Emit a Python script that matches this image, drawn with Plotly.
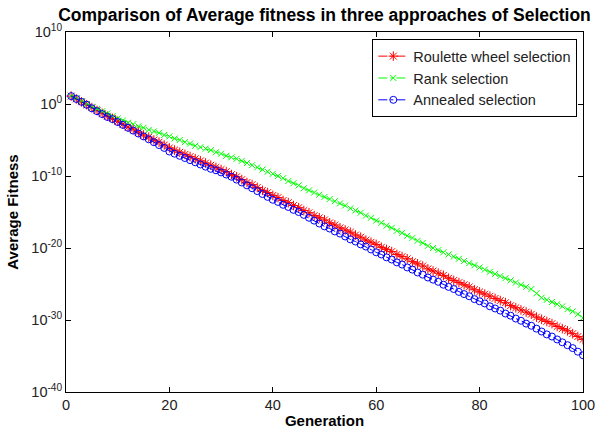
import plotly.graph_objects as go

generations = list(range(1, 101))

# log10 of average fitness
rank_log = [1.1, 0.8, 0.4, 0.0, -0.4, -0.7, -1.0, -1.3, -1.7, -2.0,
            -2.3, -2.6, -2.8, -3.1, -3.3, -3.6, -3.8, -4.0, -4.3, -4.5,
            -4.8, -5.0, -5.3, -5.5, -5.8, -6.0, -6.2, -6.4, -6.7, -6.9,
            -7.2, -7.4, -7.6, -7.9, -8.2, -8.5, -8.8, -9.1, -9.4, -9.7,
            -10.0, -10.3, -10.7, -11.0, -11.3, -11.7, -12.0, -12.3, -12.6, -12.9,
            -13.2, -13.5, -13.8, -14.1, -14.5, -14.8, -15.1, -15.5, -15.8, -16.2,
            -16.5, -16.9, -17.2, -17.6, -17.9, -18.3, -18.6, -19.0, -19.3, -19.7,
            -20.0, -20.3, -20.6, -20.9, -21.2, -21.5, -21.8, -22.1, -22.4, -22.7,
            -23.0, -23.3, -23.6, -23.9, -24.2, -24.5, -24.8, -25.1, -25.4, -25.7,
            -26.3, -26.9, -27.2, -27.5, -27.8, -28.1, -28.5, -28.8, -29.2, -29.7]

roulette_log = [1.1, 0.7, 0.3, -0.1, -0.5, -0.9, -1.3, -1.7, -2.0, -2.4,
                -2.8, -3.2, -3.5, -3.9, -4.3, -4.6, -5.0, -5.3, -5.7, -6.1,
                -6.4, -6.7, -7.0, -7.3, -7.6, -7.9, -8.2, -8.5, -8.8, -9.1,
                -9.4, -9.8, -10.1, -10.5, -10.9, -11.2, -11.6, -12.0, -12.3, -12.7,
                -13.0, -13.4, -13.7, -14.1, -14.4, -14.8, -15.1, -15.5, -15.8, -16.1,
                -16.5, -16.8, -17.2, -17.5, -17.8, -18.2, -18.5, -18.9, -19.2, -19.5,
                -19.9, -20.2, -20.5, -20.9, -21.2, -21.5, -21.9, -22.2, -22.5, -22.9,
                -23.2, -23.5, -23.8, -24.2, -24.5, -24.8, -25.1, -25.4, -25.8, -26.1,
                -26.4, -26.7, -27.0, -27.3, -27.6, -28.0, -28.3, -28.6, -28.9, -29.2,
                -29.6, -29.9, -30.2, -30.5, -30.9, -31.2, -31.5, -31.9, -32.3, -32.7]

annealed_log = [1.1, 0.7, 0.3, -0.1, -0.6, -1.0, -1.4, -1.8, -2.1, -2.5,
                -2.9, -3.3, -3.7, -4.1, -4.5, -4.9, -5.3, -5.7, -6.1, -6.6,
                -6.9, -7.2, -7.5, -7.8, -8.1, -8.4, -8.7, -9.0, -9.2, -9.5,
                -9.8, -10.1, -10.5, -10.9, -11.3, -11.7, -12.1, -12.5, -12.9, -13.3,
                -13.6, -14.0, -14.3, -14.7, -15.0, -15.4, -15.8, -16.2, -16.6, -17.0,
                -17.3, -17.7, -18.0, -18.4, -18.8, -19.1, -19.5, -19.8, -20.2, -20.6,
                -20.9, -21.3, -21.6, -22.0, -22.3, -22.7, -23.0, -23.4, -23.7, -24.1,
                -24.4, -24.7, -25.1, -25.4, -25.7, -26.1, -26.4, -26.7, -27.1, -27.4,
                -27.7, -28.1, -28.4, -28.7, -29.1, -29.4, -29.8, -30.1, -30.5, -30.8,
                -31.2, -31.6, -32.0, -32.3, -32.7, -33.1, -33.5, -33.9, -34.4, -34.9]

x_ticks = [0, 20, 40, 60, 80, 100]
y_tick_exps = [-40, -30, -20, -10, 0, 10]

series = [
    ("Roulette wheel selection", roulette_log, "#ff0000", "asterisk-open", 8),
    ("Rank selection", rank_log, "#00ff00", "x-thin-open", 6),
    ("Annealed selection", annealed_log, "#0000ff", "circle-open", 7),
]

font = "Liberation Sans, Arial, sans-serif"
fig = go.Figure()
for name, logs, color, sym, size in series:
    fig.add_trace(go.Scatter(
        x=generations, y=[10 ** v for v in logs], name=name, mode="lines+markers",
        line=dict(color=color, width=1, dash="dashdot"),
        marker=dict(symbol=sym, size=size, color=color, line=dict(color=color, width=1)),
    ))

fig.update_layout(
    width=598, height=434,
    margin=dict(l=66, r=15, t=32, b=42),
    paper_bgcolor="white", plot_bgcolor="white",
    hovermode=False,
    font=dict(family=font, size=14, color="black"),
    title=dict(text="<b>Comparison of Average fitness in three approaches of Selection</b>",
               xref="paper", x=0.5, xanchor="center", y=1 - 15 / 434, yanchor="middle",
               font=dict(size=17.5, family=font, color="black")),
    legend=dict(x=0.989, xanchor="right", y=0.98, yanchor="top",
                bordercolor="black", borderwidth=1, bgcolor="white",
                font=dict(size=14.5, family=font, color="#222"), tracegroupgap=0),
)
fig.update_xaxes(
    range=[0, 100], tickvals=x_ticks, ticktext=[str(t) for t in x_ticks],
    showgrid=False, zeroline=False, showline=True, linecolor="black", linewidth=1,
    mirror="ticks", ticks="inside", ticklen=5, tickcolor="black", automargin=False,
    tickfont=dict(size=14.5, color="#222"),
    title=dict(text="<b>Generation</b>", font=dict(size=15), standoff=3),
)
fig.update_yaxes(
    type="log", range=[-40, 10],
    tickvals=[10.0 ** e for e in y_tick_exps],
    ticktext=["10<sup>%d</sup>" % e for e in y_tick_exps],
    showgrid=False, zeroline=False, showline=True, linecolor="black", linewidth=1,
    mirror="ticks", ticks="inside", ticklen=5, tickcolor="black", automargin=False,
    tickfont=dict(size=14.5, color="#222"),
    title=dict(text="<b>Average Fitness</b>", font=dict(size=15), standoff=9),
)
fig.write_html("out.html", config={"displayModeBar": False, "staticPlot": True},
               post_script="document.body.style.margin='0';")
